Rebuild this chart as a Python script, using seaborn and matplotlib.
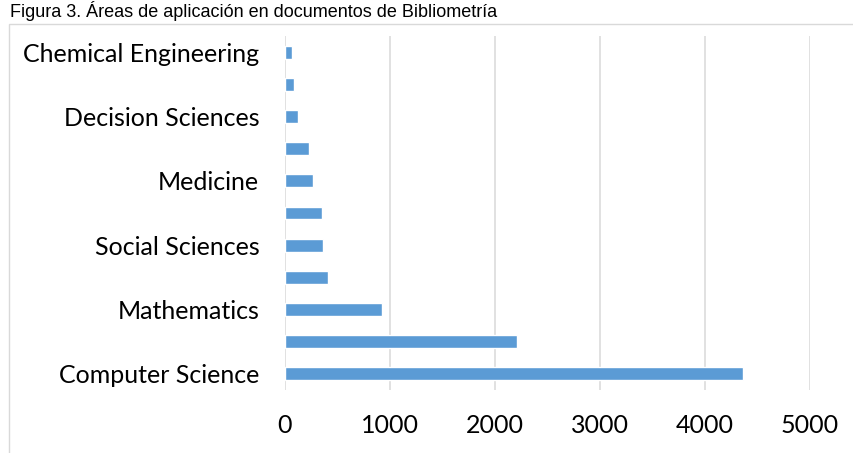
import pandas as pd
import matplotlib.pyplot as plt
import matplotlib
import seaborn as sns
from matplotlib.patches import Rectangle

# areas listed top to bottom as in the chart (only every other one gets a label)
areas = ["Chemical Engineering", "Physics and Astronomy", "Decision Sciences",
         "Economics, Econometrics and Finance", "Medicine", "Arts and Humanities",
         "Social Sciences", "Business, Management and Accounting", "Mathematics",
         "Engineering", "Computer Science"]
documents = [70, 86, 120, 232, 263, 356, 359, 406, 926, 2214, 4361]
x_ticks = [0, 1000, 2000, 3000, 4000, 5000]
title = "Figura 3. Áreas de aplicación en documentos de Bibliometría"

df = pd.DataFrame({"area": areas, "documents": documents})

sns.set_style("white")
matplotlib.rcParams["font.family"] = ["Lato", "DejaVu Sans"]

fig = plt.figure(figsize=(8.54, 4.53), dpi=100)
ax = fig.add_axes([285 / 854, 1 - 390 / 453, 525 / 854, 354 / 453])

sns.barplot(data=df, x="documents", y="area", order=areas, orient="h",
            color="#5B9BD5", width=0.4, saturation=1, ax=ax)

ax.set_xlim(0, 5000)
ax.set_xticks(x_ticks)
ax.set_xticklabels([str(t) for t in x_ticks])
ax.set_yticks(range(len(areas)))
ax.set_yticklabels([a if i % 2 == 0 else "" for i, a in enumerate(areas)])
ax.set_xlabel("")
ax.set_ylabel("")
ax.grid(axis="x", color="#d9d9d9", lw=1.1)
ax.set_axisbelow(True)
sns.despine(ax=ax, left=True, bottom=True)
ax.tick_params(axis="both", length=0, labelsize=18, colors="black")
ax.tick_params(axis="y", pad=18.5)
ax.tick_params(axis="x", pad=17)

# chart frame, cut off at the right and bottom
fig.patches.append(Rectangle((9 / 854, -0.1), 1.0, 1 - 24 / 453 + 0.1,
                             transform=fig.transFigure, fill=False,
                             edgecolor="#d9d9d9", lw=1.0))
# title above the frame
fig.text(10 / 854, 1 - 17 / 453, title, family="Liberation Sans", fontsize=13,
         va="baseline", ha="left", color="black")

plt.savefig("out.png", dpi=100)
